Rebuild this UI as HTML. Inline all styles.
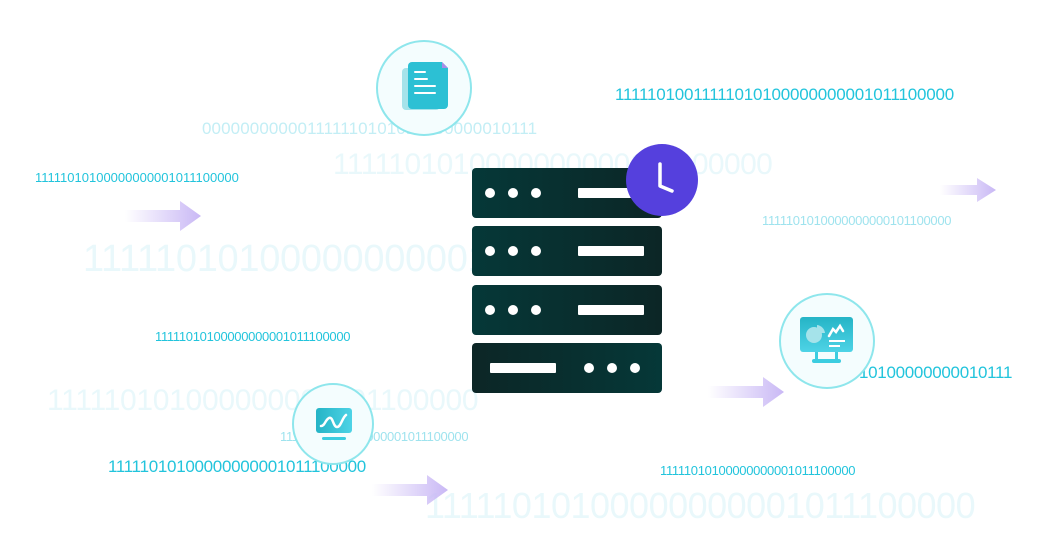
<!DOCTYPE html>
<html><head><meta charset="utf-8"><style>
body{margin:0;width:1040px;height:560px;background:#fff;position:relative;overflow:hidden;font-family:"Liberation Sans",sans-serif}
.t{position:absolute;white-space:nowrap;line-height:1;letter-spacing:-0.3px;overflow:hidden}
.c{color:#22c4dc}.l{color:#9fe3ee}.p{color:#e9f8fb}.m{color:#c3eef5}
.circ{position:absolute;border-radius:50%;background:#f4fdfe;border:2px solid #8ee6ec;box-sizing:border-box}
.srv{position:absolute;left:472px;width:190px;height:50px;border-radius:4px;background:linear-gradient(90deg,#053838,#0c2626)}
.srv.r{background:linear-gradient(90deg,#0c2626,#053838)}
.d{position:absolute;width:10px;height:10px;border-radius:50%;background:#fff;top:20px}
.b{position:absolute;height:10px;background:#fff;border-radius:1px;top:20px}
</style></head><body>
<div class="t c" style="left:615px;top:86px;font-size:17px;letter-spacing:-0.2px">11111010011111010100000000001011100000</div>
<div class="t m" style="left:202px;top:120px;font-size:17px;letter-spacing:0.1px">000000000001111110101010000000010111</div>
<div class="t p" style="left:333px;top:150px;font-size:30px;letter-spacing:-0.6px">1111101010000000000101100000</div>
<div class="t c" style="left:35px;top:171px;font-size:13px;letter-spacing:0px">11111010100000000001011100000</div>
<div class="t l" style="left:762px;top:214px;font-size:13px">1111101010000000000101100000</div>
<div class="t p" style="left:83px;top:240px;font-size:38px;width:395px">11111010100000000001011100000</div>
<div class="t c" style="left:155px;top:330px;font-size:13px">11111010100000000001011100000</div>
<div class="t c" style="left:859px;top:364px;font-size:17px">10100000000010111</div>
<div class="t p" style="left:47px;top:386px;font-size:30px">111110101000000000101100000</div>
<div class="t l" style="left:280px;top:430px;font-size:13px">1111101010000000001011100000</div>
<div class="t c" style="left:108px;top:458px;font-size:17px">11111010100000000001011100000</div>
<div class="t c" style="left:660px;top:464px;font-size:13px">11111010100000000001011100000</div>
<div class="t p" style="left:425px;top:488px;font-size:36px;letter-spacing:-0.5px">11111010100000000001011100000</div>

<svg style="position:absolute;left:0;top:0" width="1040" height="560">
<defs><linearGradient id="ag" x1="0" x2="1"><stop offset="0" stop-color="#c9b8f5" stop-opacity="0"/><stop offset="1" stop-color="#c9b8f5"/></linearGradient></defs>
<g fill="url(#ag)">
<path d="M125 210h55v-9l21 15-21 15v-9h-55z"/>
<path d="M940 185h37v-7l19 12-19 12v-7h-37z"/>
<path d="M708 386h55v-9l21 15-21 15v-9h-55z"/>
<path d="M372 484h55v-9l21 15-21 15v-9h-55z"/>
</g></svg>

<div class="circ" style="left:376px;top:40px;width:96px;height:96px"></div>
<svg style="position:absolute;left:376px;top:40px" width="96" height="96">
<rect x="26" y="28" width="38" height="42" rx="4" fill="#a5e3ea"/>
<path d="M36 22h30l6 6v37a4 4 0 0 1-4 4H36a4 4 0 0 1-4-4V26a4 4 0 0 1 4-4z" fill="#2cc0d4"/>
<path d="M66 22l6 6h-6z" fill="#a88de8"/>
<g stroke="#fff" stroke-width="2" stroke-linecap="round"><path d="M39 32h10M39 39h12M39 46h20M39 53h20"/></g>
</svg>

<div class="srv" style="top:168px"><div class="d" style="left:13px"></div><div class="d" style="left:36px"></div><div class="d" style="left:59px"></div><div class="b" style="left:106px;width:66px"></div></div>
<div class="srv" style="top:226px"><div class="d" style="left:13px"></div><div class="d" style="left:36px"></div><div class="d" style="left:59px"></div><div class="b" style="left:106px;width:66px"></div></div>
<div class="srv" style="top:285px"><div class="d" style="left:13px"></div><div class="d" style="left:36px"></div><div class="d" style="left:59px"></div><div class="b" style="left:106px;width:66px"></div></div>
<div class="srv r" style="top:343px"><div class="b" style="left:18px;width:66px"></div><div class="d" style="left:112px"></div><div class="d" style="left:135px"></div><div class="d" style="left:158px"></div></div>

<div style="position:absolute;left:626px;top:144px;width:72px;height:72px;border-radius:50%;background:#5540dd"></div>
<svg style="position:absolute;left:626px;top:144px" width="72" height="72"><path d="M34 20v22l12 5" stroke="#fff" stroke-width="3.5" fill="none" stroke-linecap="round" stroke-linejoin="round"/></svg>

<div class="circ" style="left:779px;top:293px;width:96px;height:96px"></div>
<svg style="position:absolute;left:779px;top:293px" width="96" height="96">
<defs><linearGradient id="mg" x1="0" y1="0" x2="0" y2="1"><stop offset="0" stop-color="#25b4c6"/><stop offset="1" stop-color="#4ed3e6"/></linearGradient></defs>
<rect x="21" y="24" width="53" height="35" rx="3" fill="url(#mg)"/>
<rect x="36" y="59" width="3" height="8" fill="#3ccde0"/><rect x="56" y="59" width="3" height="8" fill="#3ccde0"/>
<rect x="33" y="66" width="29" height="4" rx="2" fill="#3ccde0"/>
<circle cx="35" cy="42" r="8" fill="#a5e3ea"/><path d="M38 32a9 9 0 0 1 8 8h-8z" fill="#a5e3ea"/>
<path d="M50 43l4-7 3 3 4-6 3 5" stroke="#fff" stroke-width="2.5" fill="none" stroke-linecap="round"/>
<path d="M50 48h16M50 53h11" stroke="#fff" stroke-width="2"/>
</svg>

<div class="circ" style="left:292px;top:383px;width:82px;height:82px"></div>
<svg style="position:absolute;left:292px;top:383px" width="82" height="82">
<defs><linearGradient id="wg" x1="0" x2="1"><stop offset="0" stop-color="#25b4c6"/><stop offset="1" stop-color="#4ed3e6"/></linearGradient></defs>
<rect x="24" y="25" width="36" height="25" rx="3" fill="url(#wg)"/>
<path d="M29 43c4 0 4-6 8-8s4 9 8 9 5-9 9-12" stroke="#fff" stroke-width="2.5" fill="none" stroke-linecap="round"/>
<rect x="30" y="54" width="24" height="3" rx="1.5" fill="#3ccde0"/>
</svg>
</body></html>
